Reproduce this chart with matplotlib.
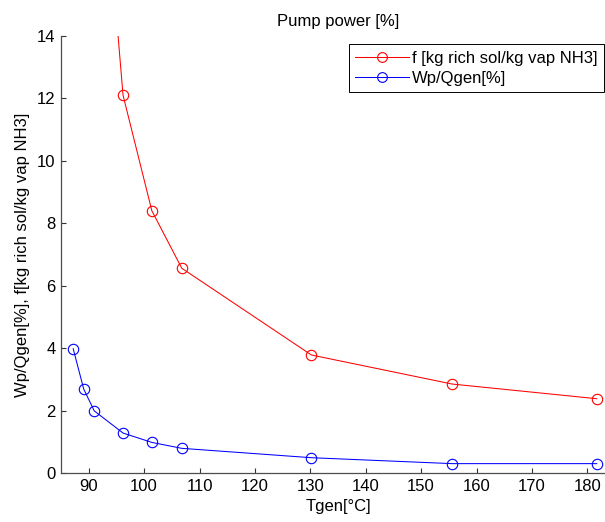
import matplotlib
matplotlib.use("Agg")
import matplotlib.pyplot as plt

# data
t_gen_f = [91.0, 96.2, 101.4, 106.8, 130.2, 155.6, 181.7]
f_ratio = [23.1, 12.1, 8.4, 6.56, 3.78, 2.85, 2.38]

t_gen_wp = [87.2, 89.1, 91.0, 96.2, 101.4, 106.8, 130.2, 155.6, 181.7]
wp_qgen = [3.98, 2.69, 1.99, 1.28, 0.98, 0.79, 0.49, 0.3, 0.3]

x_ticks = [90, 100, 110, 120, 130, 140, 150, 160, 170, 180]
y_ticks = [0, 2, 4, 6, 8, 10, 12, 14]

plt.rcParams["font.family"] = ["Liberation Sans", "DejaVu Sans"]
plt.rcParams["font.size"] = 12

fig = plt.figure(figsize=(6.05, 5.22), dpi=100)
# axes runs a little past the right edge, as in the cropped original
ax = fig.add_axes([61 / 605, 49 / 522, 554 / 605, 437 / 522])

ax.plot(t_gen_f, f_ratio, color="#ff0000", lw=0.75, marker="o", ms=7.5,
        mfc="none", mec="#ff0000", mew=0.8, label="f [kg rich sol/kg vap NH3]")
ax.plot(t_gen_wp, wp_qgen, color="#0000ff", lw=0.75, marker="o", ms=7.5,
        mfc="none", mec="#0000ff", mew=0.8, label="Wp/Qgen[%]")

ax.set_xlim(85, 185)
ax.set_ylim(0, 14)
ax.set_xticks(x_ticks)
ax.set_yticks(y_ticks)

for side in ("top", "right"):
    ax.spines[side].set_visible(False)
for side in ("left", "bottom"):
    ax.spines[side].set_color("0.3")
    ax.spines[side].set_linewidth(0.9)
ax.tick_params(direction="in", length=3.6, width=0.8, color="0.2",
               labelsize=12, pad=4)

ax.set_title("Pump power [%]", fontsize=12, pad=7)
ax.set_xlabel("Tgen[°C]", labelpad=4)
ax.set_ylabel("Wp/Qgen[%], f[kg rich sol/kg vap NH3]", labelpad=5)

leg = ax.legend(loc="upper right", bbox_to_anchor=(604 / 605, 478 / 522),
                bbox_transform=fig.transFigure, borderaxespad=0,
                fancybox=False, edgecolor="black", framealpha=1,
                handlelength=3.2, handletextpad=0.2, labelspacing=0.3,
                borderpad=0.4, fontsize=12)
leg.get_frame().set_linewidth(0.7)
for h in leg.legend_handles:
    h.set_markersize(7)

fig.savefig("out.png", dpi=100)
